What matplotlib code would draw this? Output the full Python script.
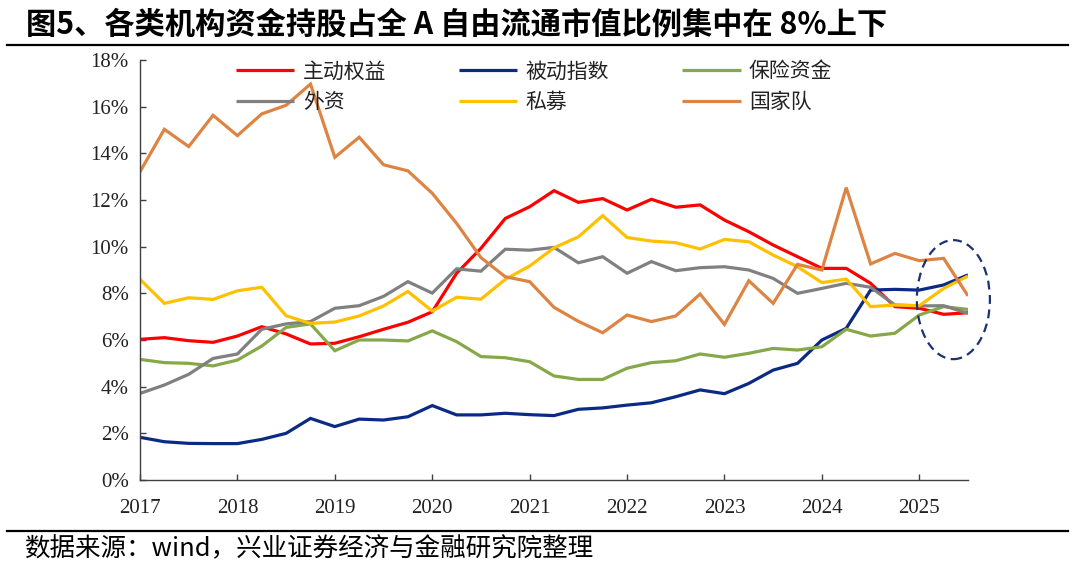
import matplotlib
matplotlib.use("Agg")
import matplotlib.pyplot as plt
from matplotlib.patches import Ellipse
from matplotlib.lines import Line2D
import numpy as np

# ---- data (quarterly, 2017 .. 2025.5) ----
dates = [2017 + i * 0.25 for i in range(35)]

active_equity = [6.03, 6.10, 5.97, 5.90, 6.17, 6.57, 6.26, 5.83, 5.86, 6.14,
                 6.46, 6.76, 7.21, 8.86, 9.93, 11.21, 11.71, 12.40, 11.90, 12.06,
                 11.57, 12.03, 11.69, 11.79, 11.14, 10.64, 10.07, 9.57, 9.07, 9.07,
                 8.43, 7.43, 7.36, 7.10, 7.17]
passive_index = [1.83, 1.64, 1.57, 1.56, 1.56, 1.74, 2.00, 2.64, 2.29, 2.61,
                 2.57, 2.71, 3.19, 2.79, 2.79, 2.86, 2.80, 2.76, 3.03, 3.09,
                 3.21, 3.31, 3.57, 3.86, 3.70, 4.14, 4.71, 5.00, 6.00, 6.50,
                 8.14, 8.17, 8.14, 8.36, 8.79]
insurance = [5.17, 5.03, 5.00, 4.89, 5.14, 5.74, 6.54, 6.69, 5.54, 6.00,
             6.00, 5.96, 6.39, 5.93, 5.29, 5.24, 5.07, 4.46, 4.31, 4.31,
             4.79, 5.03, 5.11, 5.40, 5.26, 5.43, 5.64, 5.57, 5.71, 6.46,
             6.17, 6.29, 7.07, 7.43, 7.31]
foreign = [3.71, 4.07, 4.53, 5.21, 5.40, 6.46, 6.69, 6.79, 7.36, 7.47,
           7.87, 8.50, 8.01, 9.05, 8.95, 9.89, 9.85, 9.97, 9.31, 9.57,
           8.86, 9.36, 8.97, 9.10, 9.14, 9.00, 8.64, 8.00, 8.21, 8.43,
           8.26, 7.50, 7.46, 7.47, 7.14]
private_fund = [8.60, 7.57, 7.81, 7.74, 8.11, 8.26, 7.04, 6.71, 6.77, 7.03,
                7.46, 8.08, 7.24, 7.83, 7.75, 8.60, 9.17, 9.95, 10.42, 11.33,
                10.39, 10.24, 10.17, 9.90, 10.31, 10.21, 9.64, 9.14, 8.46, 8.61,
                7.43, 7.50, 7.47, 8.21, 8.74]
national_team = [13.21, 15.03, 14.29, 15.63, 14.76, 15.69, 16.06, 16.97, 13.83, 14.69,
                 13.51, 13.25, 12.29, 11.00, 9.53, 8.71, 8.50, 7.40, 6.80, 6.31,
                 7.07, 6.79, 7.03, 7.97, 6.67, 8.54, 7.57, 9.24, 9.00, 12.53,
                 9.26, 9.71, 9.40, 9.50, 7.89]

labels = ["主动权益", "被动指数", "保险资金", "外资", "私募", "国家队"]
colors = ["#FF0000", "#0B2A83", "#86A84A", "#808080", "#FFC000", "#DD8443"]
series = [active_equity, passive_index, insurance, foreign, private_fund, national_team]

year_ticks = list(range(2017, 2026))
y_ticks = list(range(0, 19, 2))

title = "图5、各类机构资金持股占全 A 自由流通市值比例集中在 8%上下"
source = "数据来源：wind，兴业证券经济与金融研究院整理"

# ---- figure ----
plt.rcParams['font.family'] = ['Noto Sans CJK SC', 'DejaVu Sans']
fig = plt.figure(figsize=(10.8, 5.74), dpi=100)
ax = fig.add_axes([140 / 1080, 94 / 574, 828 / 1080, 420 / 574])

lines = {}
for lab, col, vals in zip(labels, colors, series):
    ln, = ax.plot(dates, vals, color=col, lw=2.3, label=lab, solid_joinstyle='miter',
                  solid_capstyle='butt')
    lines[lab] = ln

ax.set_xlim(2017, 2025.5)
ax.set_ylim(0, 18)
ax.set_xticks(year_ticks)
ax.set_xticklabels([str(y) for y in year_ticks])
ax.set_yticks(y_ticks)
ax.set_yticklabels([f"{v}%" for v in y_ticks])

for s in ["top", "right"]:
    ax.spines[s].set_visible(False)
for s in ["left", "bottom"]:
    ax.spines[s].set_color("#404040")
    ax.spines[s].set_linewidth(1.0)
ax.tick_params(direction="in", length=4.5, width=1.0, color="#404040",
               labelcolor="#222222", labelsize=15)
ax.tick_params(axis="x", pad=14)
ax.tick_params(axis="y", pad=8)
for t in ax.get_xticklabels() + ax.get_yticklabels():
    t.set_fontfamily("Liberation Serif")

# dashed ellipse highlight
ell = Ellipse((2025.35, 7.73), width=0.75, height=5.1, fill=False,
              edgecolor="#1A3272", lw=1.6, linestyle=(0, (4, 2.5)), zorder=5,
              clip_on=False)
ax.add_patch(ell)

# legend (row-wise order via column-major arrangement)
order = ["主动权益", "外资", "被动指数", "私募", "保险资金", "国家队"]
leg = ax.legend([lines[k] for k in order], order, ncol=3, loc="upper left",
                bbox_to_anchor=(0.116, 0.999), frameon=False, borderpad=0,
                borderaxespad=0, handlelength=2.8, handletextpad=0.4,
                columnspacing=3.5, labelspacing=0.42,
                prop={"family": ["Noto Sans CJK SC"], "size": 15})
for t in leg.get_texts():
    t.set_color("#222222")

# title, rules and source
fig.text(26 / 1080, 1 - 25 / 574, title, fontsize=21.8, fontweight="bold",
         ha="left", va="center", color="black")
fig.add_artist(Line2D([7 / 1080, 1068 / 1080], [1 - 45 / 574, 1 - 45 / 574],
                      color="black", lw=1.6))
fig.add_artist(Line2D([7 / 1080, 1068 / 1080], [1 - 531 / 574, 1 - 531 / 574],
                      color="black", lw=1.6))
fig.text(24 / 1080, 1 - 549 / 574, source, fontsize=18.4, ha="left", va="center",
         color="black")

fig.savefig("out.png", dpi=100)
